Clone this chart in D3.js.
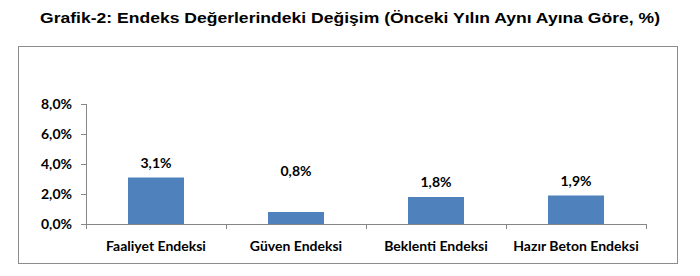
<!DOCTYPE html>
<html>
<head>
<meta charset="utf-8">
<script src="https://cdn.jsdelivr.net/npm/d3@7"></script>
<style>
  body { margin: 0; background: #fff; }
  svg { display: block; }
  .title { font-family: "Liberation Sans Narrow", "Liberation Sans", Arial, sans-serif; font-weight: bold; font-size: 15px; fill: #000; }
  .lbl { font-family: Lato, "Open Sans", sans-serif; font-weight: bold; font-size: 14px; fill: #000; }
</style>
</head>
<body>
<div id="chart"></div>
<script>
// veriler
const categories = ["Faaliyet Endeksi", "Güven Endeksi", "Beklenti Endeksi", "Hazır Beton Endeksi"];
const values = [3.1, 0.8, 1.8, 1.9];
const yTicks = [0, 2, 4, 6, 8];

const W = 700, H = 276;
const fmt = v => d3.format(".1f")(v).replace(".", ",") + "%";

const svg = d3.select("#chart").append("svg")
  .attr("width", W)
  .attr("height", H);

// başlık
svg.append("text")
  .attr("class", "title")
  .attr("x", 350)
  .attr("y", 23)
  .attr("text-anchor", "middle")
  .attr("textLength", 620)
  .attr("lengthAdjust", "spacingAndGlyphs")
  .text("Grafik-2: Endeks Değerlerindeki Değişim  (Önceki Yılın Aynı Ayına Göre, %)");

// çerçeve
svg.append("rect")
  .attr("x", 18.5).attr("y", 46.5)
  .attr("width", 659).attr("height", 217)
  .attr("fill", "#fff")
  .attr("stroke", "#8c8c8c")
  .attr("stroke-width", 1);

const x = d3.scaleBand().domain(categories).range([86, 646])
  .paddingInner(0.6).paddingOuter(0.3);
const y = d3.scaleLinear().domain([0, 8]).range([224, 104]);

const axisColor = "#868686";

// y ekseni
svg.append("line")
  .attr("x1", 86.5).attr("x2", 86.5)
  .attr("y1", y(8)).attr("y2", y(0))
  .attr("stroke", axisColor);

svg.selectAll(".ytick").data(yTicks).enter().append("line")
  .attr("x1", 81).attr("x2", 86.5)
  .attr("y1", d => Math.round(y(d)) + 0.5)
  .attr("y2", d => Math.round(y(d)) + 0.5)
  .attr("stroke", axisColor);

svg.selectAll(".ylab").data(yTicks).enter().append("text")
  .attr("class", "lbl")
  .attr("x", 72)
  .attr("y", d => y(d))
  .attr("dy", "0.35em")
  .attr("text-anchor", "end")
  .text(fmt);

// x ekseni
svg.append("line")
  .attr("x1", 86).attr("x2", 646)
  .attr("y1", y(0) + 0.5).attr("y2", y(0) + 0.5)
  .attr("stroke", axisColor);

const bounds = [86].concat(categories.map(c => x(c) + x.bandwidth() + x.step() * 0.3));
svg.selectAll(".xtick").data(bounds).enter().append("line")
  .attr("x1", d => Math.round(d) + 0.5).attr("x2", d => Math.round(d) + 0.5)
  .attr("y1", y(0)).attr("y2", y(0) + 5)
  .attr("stroke", axisColor);

svg.selectAll(".xlab").data(categories).enter().append("text")
  .attr("class", "lbl")
  .attr("x", d => x(d) + x.bandwidth() / 2)
  .attr("y", 251)
  .attr("text-anchor", "middle")
  .text(d => d);

// çubuklar
svg.selectAll(".bar").data(values).enter().append("rect")
  .attr("x", (d, i) => x(categories[i]))
  .attr("y", d => y(d))
  .attr("width", x.bandwidth())
  .attr("height", d => y(0) - y(d))
  .attr("fill", "#4f81bd");

// değer etiketleri (Güven etiketi elle yukarı taşınmış)
const lift = [0, 26, 0, 0];
svg.selectAll(".vlab").data(values).enter().append("text")
  .attr("class", "lbl")
  .attr("x", (d, i) => x(categories[i]) + x.bandwidth() / 2)
  .attr("y", (d, i) => y(d) - 10 - lift[i])
  .attr("text-anchor", "middle")
  .text(fmt);
</script>
</body>
</html>
